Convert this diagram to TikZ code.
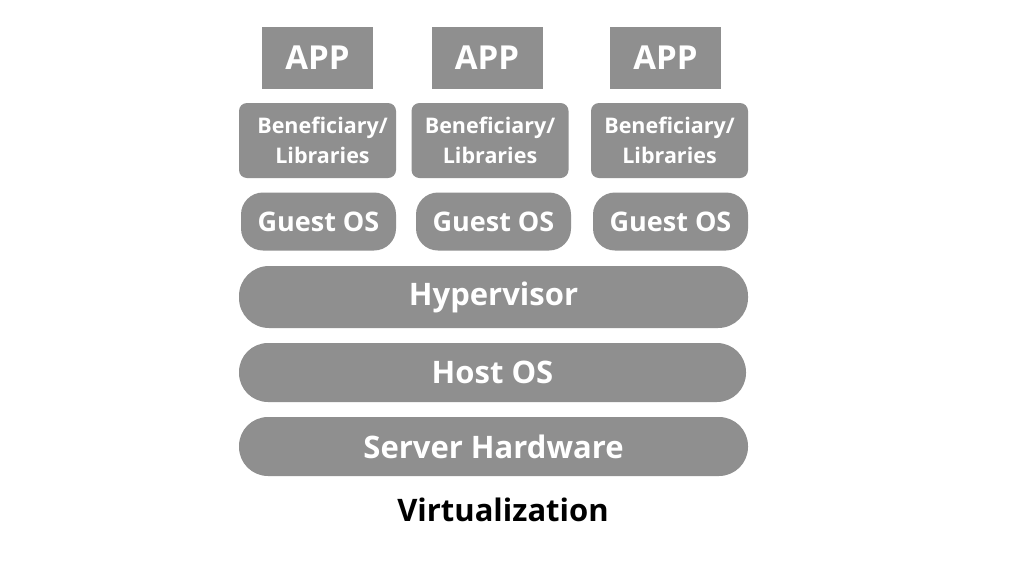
\documentclass[tikz,border=0pt]{standalone}
\usepackage{fontspec}
\setmainfont{Open Sans}
\definecolor{boxgray}{HTML}{8F8F8F}
\begin{document}
\begin{tikzpicture}[x=1pt,y=-1pt,
  layer/.style={fill=boxgray, text=white, inner sep=0pt, font=\bfseries\fontsize{31}{36}\selectfont},
  appbox/.style={layer, minimum width=111pt, minimum height=62pt, font=\bfseries\fontsize{33}{36}\selectfont},
  libbox/.style={layer, rounded corners=8pt, minimum width=157pt, minimum height=75pt, align=center, font=\bfseries\fontsize{21.5}{30}\selectfont},
  guestbox/.style={layer, rounded corners=22pt, minimum width=155pt, minimum height=58pt, font=\bfseries\fontsize{27}{30}\selectfont},
  pillbox/.style={layer, rounded corners=29pt, minimum height=60pt}
]
\useasboundingbox (0,0) rectangle (1024,576);
\fill[white] (0,0) rectangle (1024,576);

\node[appbox] (app1) at (317.5,57.5) {APP};
\node[appbox] (app2) at (487,57.5) {APP};
\node[appbox] (app3) at (665.5,57.5) {APP};

\node[libbox] (lib1) at (317.5,140.5) {\hspace*{10pt}Beneficiary/\\\hspace*{10pt}Libraries};
\node[libbox] (lib2) at (490,140.5) {Beneficiary/\\Libraries};
\node[libbox] (lib3) at (669.5,140.5) {Beneficiary/\\Libraries};

\node[guestbox] (guest1) at (318.5,221.5) {Guest OS};
\node[guestbox] (guest2) at (493.5,221.5) {Guest OS};
\node[guestbox] (guest3) at (670.5,221.5) {Guest OS};

\node[pillbox, minimum width=509pt, minimum height=62pt, rounded corners=30pt] (hyper) at (493.5,297) {Hypervisor};
\node[pillbox, minimum width=507pt, minimum height=59pt] (host) at (492.5,372.5) {Host OS};
\node[pillbox, minimum width=509pt, minimum height=59pt] (server) at (493.5,446.5) {Server Hardware};

\node[inner sep=0pt, text=black, font=\bfseries\fontsize{31}{36}\selectfont] (title) at (503,510) {Virtualization};
\end{tikzpicture}
\end{document}
